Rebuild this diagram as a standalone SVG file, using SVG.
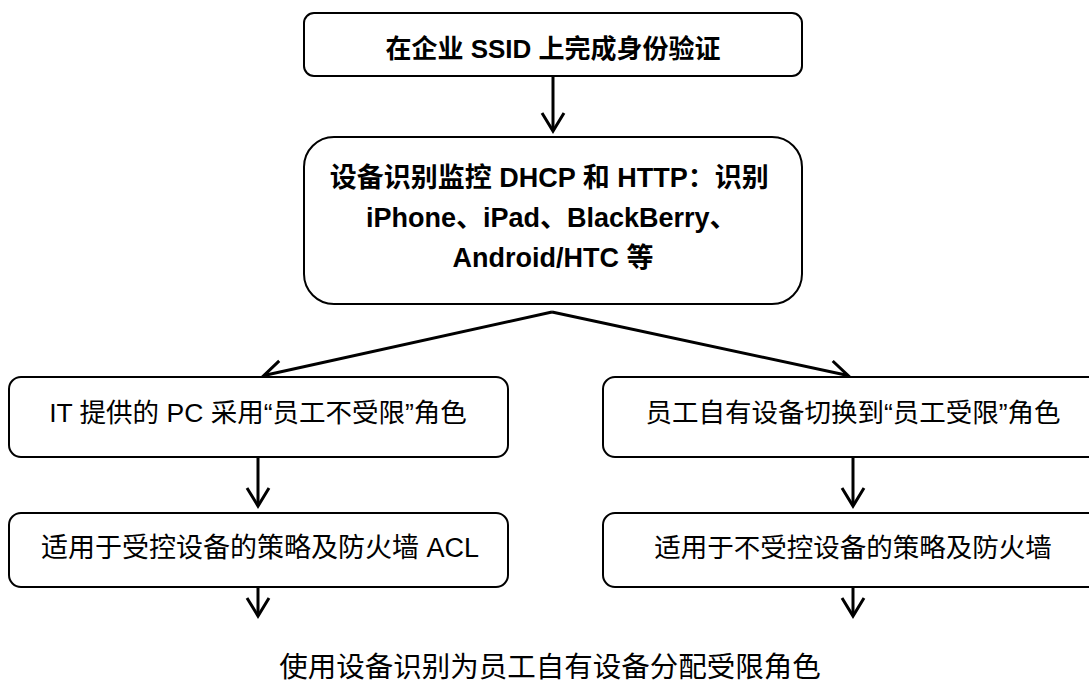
<svg xmlns="http://www.w3.org/2000/svg" width="1089" height="681" viewBox="0 0 1089 681">
  <style>
    .box { fill: #ffffff; stroke: #000000; stroke-width: 2; }
    .lbl { font-family: "Liberation Sans", "Noto Sans CJK SC", sans-serif; fill: #000000; text-anchor: middle; }
    .bold { font-weight: bold; }
    .reg { font-size: 26.5px; }
    .wire { fill: none; stroke: #000000; stroke-width: 3; marker-end: url(#chevron); }
  </style>
  <defs>
    <marker id="chevron" markerUnits="userSpaceOnUse" viewBox="-22 -14 26 28" refX="0" refY="0" markerWidth="26" markerHeight="28" orient="auto">
      <path d="M-18,-11 L0,0 L-18,11" fill="none" stroke="#000000" stroke-width="3" stroke-linejoin="miter"/>
    </marker>
  </defs>
  <rect x="0" y="0" width="1089" height="681" fill="#ffffff"/>

  <g id="connectors">
    <path class="wire" d="M553,76 L553,131"/>
    <path class="wire" d="M552,312 L264,375.5"/>
    <path class="wire" d="M552,312 L848,375.5"/>
    <path class="wire" d="M258,457 L258,506"/>
    <path class="wire" d="M853,457 L853,506"/>
    <path class="wire" d="M258,587 L258,616"/>
    <path class="wire" d="M853,587 L853,616"/>
  </g>

  <g id="auth">
    <rect class="box" x="304" y="13" width="498" height="63" rx="10"/>
    <text class="lbl bold" x="553" y="58" font-size="26">在企业 SSID 上完成身份验证</text>
  </g>

  <g id="fingerprint">
    <rect class="box" x="304" y="137" width="498" height="167" rx="30"/>
    <text class="lbl bold" font-size="27">
      <tspan x="553" y="187">设备识别监控 DHCP 和 HTTP：识别</tspan>
      <tspan x="555" y="227">iPhone、iPad、BlackBerry、</tspan>
      <tspan x="553" y="267">Android/HTC 等</tspan>
    </text>
  </g>

  <g id="it-pc">
    <rect class="box" x="9" y="377" width="499" height="80" rx="12"/>
    <text class="lbl reg" x="258" y="422">IT 提供的 PC 采用“员工不受限”角色</text>
  </g>

  <g id="byod">
    <rect class="box" x="603" y="377" width="500" height="80" rx="12"/>
    <text class="lbl reg" x="853" y="422">员工自有设备切换到“员工受限”角色</text>
  </g>

  <g id="managed-policy">
    <rect class="box" x="9" y="513" width="499" height="74" rx="12"/>
    <text class="lbl" x="260" y="557" font-size="27">适用于受控设备的策略及防火墙 ACL</text>
  </g>

  <g id="unmanaged-policy">
    <rect class="box" x="603" y="513" width="500" height="74" rx="12"/>
    <text class="lbl reg" x="853" y="557">适用于不受控设备的策略及防火墙</text>
  </g>

  <g id="caption">
    <text class="lbl" x="550" y="677" font-size="28.5">使用设备识别为员工自有设备分配受限角色</text>
  </g>
</svg>
